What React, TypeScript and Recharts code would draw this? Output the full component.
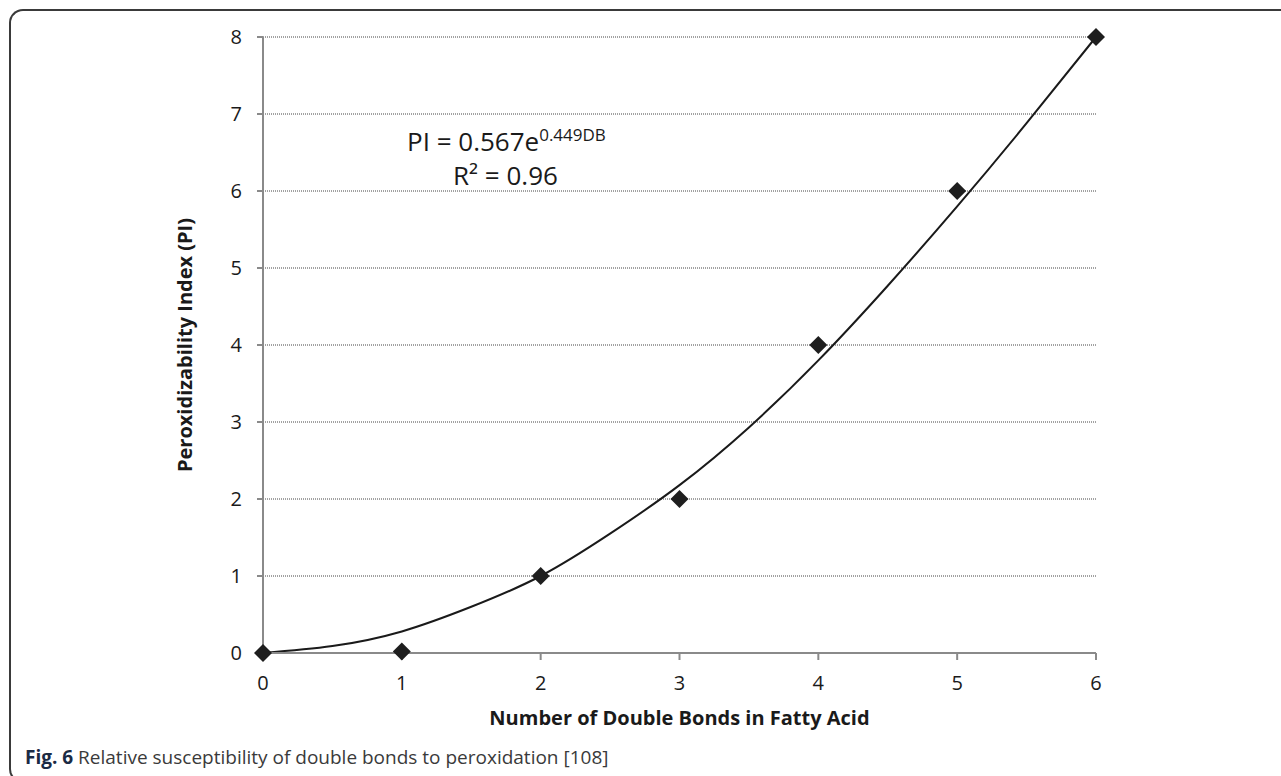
import React from "react";
import {
  ComposedChart,
  CartesianGrid,
  Line,
  Scatter,
  XAxis,
  YAxis,
} from "recharts";

// measured points: double bonds vs peroxidizability index
const doubleBonds = [0, 1, 2, 3, 4, 5, 6];
const piValues = [0, 0.02, 1, 2, 4, 6, 8];

// trendline every half step
const trendX = [0, 0.5, 1, 1.5, 2, 2.5, 3, 3.5, 4, 4.5, 5, 5.5, 6];
const trendY = [0, 0.09, 0.28, 0.6, 1.0, 1.55, 2.18, 2.93, 3.8, 4.77, 5.8, 6.88, 8.0];

const xTicks = [0, 1, 2, 3, 4, 5, 6];
const yTicks = [0, 1, 2, 3, 4, 5, 6, 7, 8];

const points = doubleBonds.map((x, i) => ({ x, y: piValues[i] }));
const trend = trendX.map((x, i) => ({ x, y: trendY[i] }));

const FONT = "'Open Sans', 'Noto Sans', sans-serif";
const AXIS = "#8a8a8a";

const Diamond = (props: any) => {
  const { cx, cy } = props;
  const r = 9;
  return (
    <polygon
      points={`${cx},${cy - r} ${cx + r},${cy} ${cx},${cy + r} ${cx - r},${cy}`}
      fill="#1e1e1e"
    />
  );
};

export default function App() {
  return (
    <div
      style={{
        position: "fixed",
        left: 0,
        top: 0,
        width: 1281,
        height: 776,
        overflow: "hidden",
        background: "#fff",
        fontFamily: FONT,
      }}
    >
      <div
        style={{
          position: "absolute",
          left: 9,
          top: 9,
          width: 1400,
          height: 774,
          borderTop: "2px solid #3a3a3a",
          borderLeft: "2px solid #3a3a3a",
          borderBottom: "2px solid #3a3a3a",
          borderTopLeftRadius: 14,
          borderBottomLeftRadius: 14,
          boxSizing: "border-box",
        }}
      />
      <ComposedChart
        width={1281}
        height={776}
        margin={{ top: 37, right: 185, bottom: 93, left: 163 }}
        style={{ position: "absolute", left: 0, top: 0 }}
      >
        <CartesianGrid
          horizontal
          vertical={false}
          stroke="#444"
          strokeDasharray="1 1"
          strokeWidth={1}
        />
        <XAxis
          type="number"
          dataKey="x"
          domain={[0, 6]}
          ticks={xTicks}
          interval={0}
          height={30}
          tickSize={7}
          tickMargin={16}
          stroke={AXIS}
          strokeWidth={2}
          tick={{ fill: "#1a1a1a", fontSize: 20, fontFamily: FONT }}
          label={{
            value: "Number of Double Bonds in Fatty Acid",
            position: "bottom",
            offset: 28,
            style: {
              fill: "#1a1a1a",
              fontSize: 20,
              fontWeight: 700,
              fontFamily: FONT,
            },
          }}
        />
        <YAxis
          type="number"
          dataKey="y"
          domain={[0, 8]}
          ticks={yTicks}
          interval={0}
          width={100}
          tickSize={6}
          tickMargin={15}
          stroke={AXIS}
          strokeWidth={2}
          tick={{ fill: "#1a1a1a", fontSize: 20, fontFamily: FONT }}
          label={{
            value: "Peroxidizability Index (PI)",
            angle: -90,
            position: "insideLeft",
            offset: 22,
            style: {
              textAnchor: "middle",
              fill: "#1a1a1a",
              fontSize: 20,
              fontWeight: 700,
              fontFamily: FONT,
            },
          }}
        />
        <Line
          data={trend}
          dataKey="y"
          type="natural"
          stroke="#1a1a1a"
          strokeWidth={2}
          dot={false}
          activeDot={false}
          isAnimationActive={false}
        />
        <Scatter
          data={points}
          dataKey="y"
          shape={<Diamond />}
          isAnimationActive={false}
        />
      </ComposedChart>
      <div
        style={{
          position: "absolute",
          left: 407,
          top: 128,
          fontSize: 26,
          color: "#1a1a1a",
          lineHeight: "26px",
          whiteSpace: "nowrap",
        }}
      >
        PI = 0.567e
        <span style={{ fontSize: 17, position: "relative", top: -10 }}>0.449DB</span>
      </div>
      <div
        style={{
          position: "absolute",
          left: 453,
          top: 162,
          fontSize: 26,
          color: "#1a1a1a",
          lineHeight: "26px",
          whiteSpace: "nowrap",
        }}
      >
        R² = 0.96
      </div>
      <div
        style={{
          position: "absolute",
          left: 25,
          top: 744,
          fontSize: 19,
          color: "#3a3a3a",
          lineHeight: "26px",
          whiteSpace: "nowrap",
        }}
      >
        <span style={{ fontWeight: 700, color: "#1a2a44" }}>Fig. 6</span> Relative
        susceptibility of double bonds to peroxidation [108]
      </div>
    </div>
  );
}
